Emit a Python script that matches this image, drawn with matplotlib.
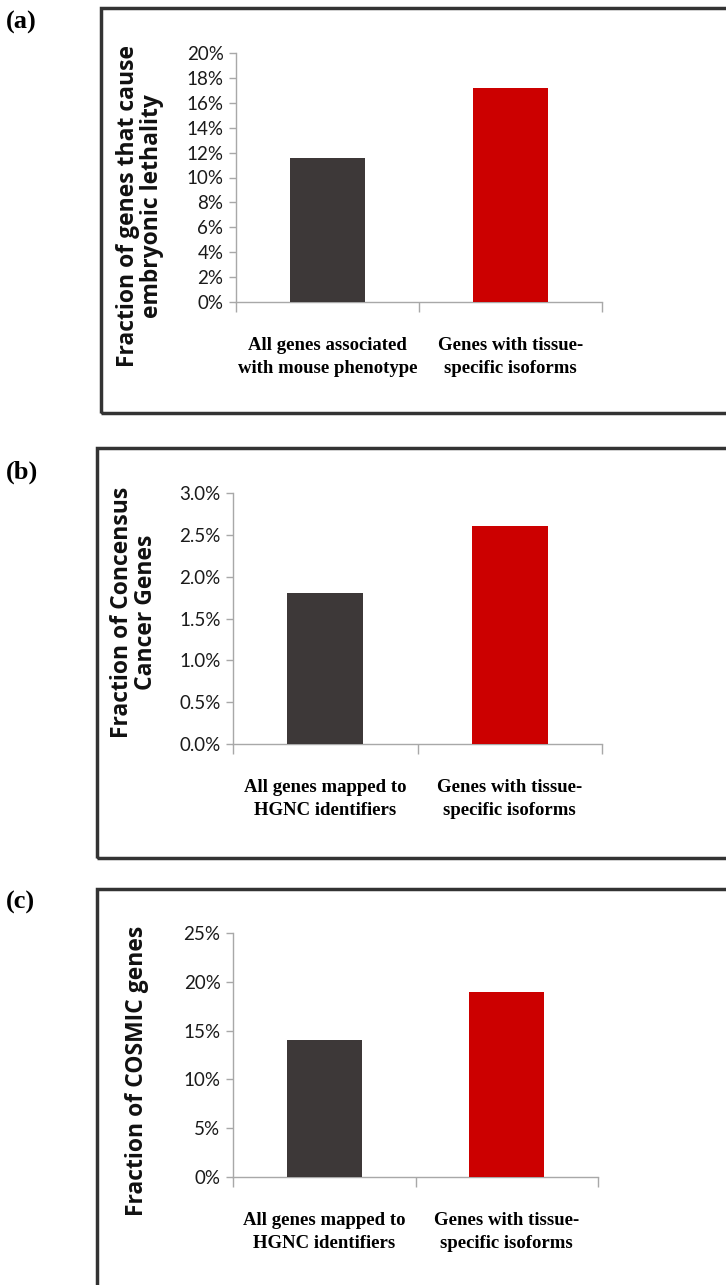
import matplotlib
matplotlib.use("Agg")
import matplotlib.pyplot as plt
from matplotlib.patches import Rectangle
from matplotlib.ticker import FuncFormatter

W, H = 726, 1285

# ---- data ----
panel_tags = ["(a)", "(b)", "(c)"]
cats_a = ["All genes associated\nwith mouse phenotype", "Genes with tissue-\nspecific isoforms"]
cats_b = ["All genes mapped to\nHGNC identifiers", "Genes with tissue-\nspecific isoforms"]
cats_c = ["All genes mapped to\nHGNC identifiers", "Genes with tissue-\nspecific isoforms"]
vals_a = [11.6, 17.2]
vals_b = [1.8, 2.6]
vals_c = [14.0, 19.0]
ylab_a = "Fraction of genes that cause\nembryonic lethality"
ylab_b = "Fraction of Concensus\nCancer Genes"
ylab_c = "Fraction of COSMIC genes"
yticks_a = [0, 2, 4, 6, 8, 10, 12, 14, 16, 18, 20]
yticks_b = [0.0, 0.5, 1.0, 1.5, 2.0, 2.5, 3.0]
yticks_c = [0, 5, 10, 15, 20, 25]

bar_colors = ["#3d3838", "#cc0000"]

fig = plt.figure(figsize=(W / 100, H / 100), dpi=100)
fig.patch.set_facecolor("white")

def fx(px):
    return px / W

def fy(py):
    return 1 - py / H

panels = [
    dict(tag=panel_tags[0], cats=cats_a, vals=vals_a, ylab=ylab_a, yt=yticks_a, fmt="{:.0f}%",
         ax=(236, 602, 53, 302), box=(101, 8, 413), tagy=22, ylx=140, yly=206, catpad=25),
    dict(tag=panel_tags[1], cats=cats_b, vals=vals_b, ylab=ylab_b, yt=yticks_b, fmt="{:.1f}%",
         ax=(233, 602, 493, 744), box=(97, 448, 858), tagy=472, ylx=134, yly=612, catpad=25),
    dict(tag=panel_tags[2], cats=cats_c, vals=vals_c, ylab=ylab_c, yt=yticks_c, fmt="{:.0f}%",
         ax=(233, 598, 933, 1177), box=(97, 889, 1310), tagy=902, ylx=137, yly=1071, catpad=25),
]

for p in panels:
    l, r, t, b = p["ax"]
    ax = fig.add_axes([fx(l), fy(b), (r - l) / W, (b - t) / H])
    x = list(range(len(p["vals"])))
    ax.bar(x, p["vals"], width=0.41, color=bar_colors, zorder=3)
    ax.set_xlim(-0.5, 1.5)
    ax.set_ylim(p["yt"][0], p["yt"][-1])
    ax.set_yticks(p["yt"])
    fmt = p["fmt"]
    ax.yaxis.set_major_formatter(FuncFormatter(lambda v, pos, f=fmt: f.format(v)))
    for s in ["top", "right"]:
        ax.spines[s].set_visible(False)
    for s in ["left", "bottom"]:
        ax.spines[s].set_color("#a8a8a8")
        ax.spines[s].set_linewidth(1.0)
    ax.tick_params(axis="y", direction="out", length=5, width=1.0, color="#a8a8a8",
                   labelsize=13.5, labelcolor="#1a1a1a", pad=4)
    for lab in ax.get_yticklabels():
        lab.set_fontfamily("Lato")
    ax.set_xticks([-0.5, 0.5, 1.5])
    ax.set_xticklabels([])
    ax.tick_params(axis="x", which="major", direction="out", length=7, width=1.0, color="#a8a8a8")
    ax.set_xticks(x, minor=True)
    ax.set_xticklabels(p["cats"], minor=True, fontfamily="Liberation Serif",
                       fontweight="bold", fontsize=13.5, linespacing=1.45)
    ax.tick_params(axis="x", which="minor", length=0, pad=p["catpad"])

    fig.text(fx(p["ylx"]), fy(p["yly"]), p["ylab"], rotation=90, ha="center", va="center",
             fontfamily="Open Sans", fontweight="bold", fontsize=16.5, linespacing=0.95,
             color="#111111")

    fig.text(fx(6), fy(p["tagy"]), p["tag"], ha="left", va="center",
             fontfamily="Liberation Serif", fontweight="bold", fontsize=19)

    bx, bt, bb = p["box"]
    rect = Rectangle((fx(bx), fy(bb)), fx(760 - bx), (bb - bt) / H, transform=fig.transFigure,
                     fill=False, edgecolor="#333333", linewidth=2.5, clip_on=False)
    fig.patches.append(rect)

fig.savefig("out.png", dpi=100, facecolor="white")
